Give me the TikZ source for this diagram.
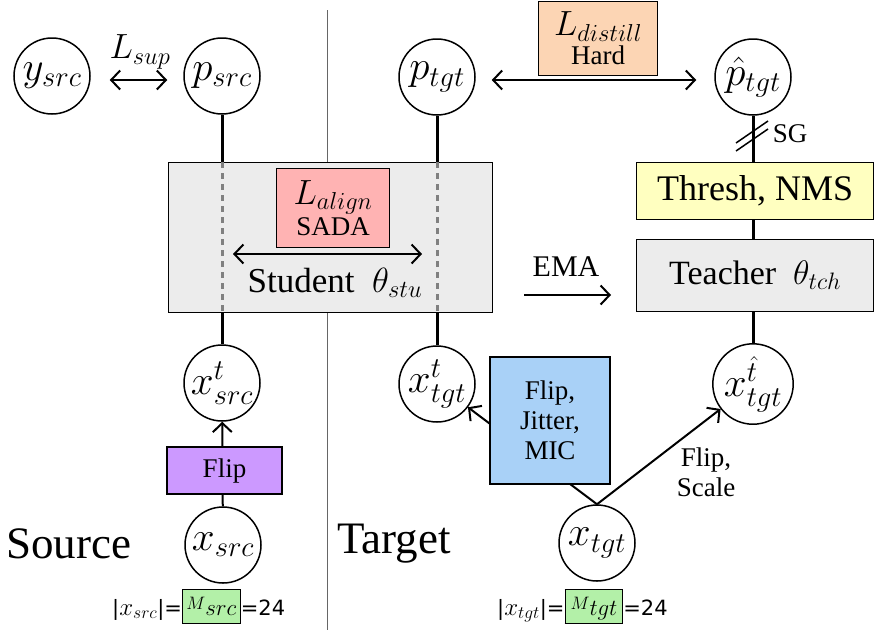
\RequirePackage{fix-cm}
\documentclass[tikz,border=0pt]{standalone}
\usepackage{fontspec}
\setmainfont{Liberation Serif}
\newfontfamily\labsans{DejaVu Sans}
\usetikzlibrary{arrows.meta}
\definecolor{boxgray}{HTML}{ECECEC}
\definecolor{alignred}{HTML}{FFB3B3}
\definecolor{distorange}{HTML}{FCD5B4}
\definecolor{threshyellow}{HTML}{FFFFC0}
\definecolor{flippurple}{HTML}{CC99FF}
\definecolor{augblue}{HTML}{A9D1F7}
\definecolor{mgreen}{HTML}{B3F0A8}
\newcommand\myBig{\fontsize{35}{38}\selectfont}
\newcommand\myVar{\fontsize{41}{44}\selectfont}
\newcommand\mySmall{\fontsize{27}{30}\selectfont}
\newcommand\myHuge{\fontsize{45}{50}\selectfont}
\newcommand\myLab{\labsans\fontsize{21}{24}\selectfont}
\newcommand\greenM[1]{\fcolorbox{black}{mgreen}{\makebox[53pt]{\rule[-6pt]{0pt}{29pt}\raisebox{6pt}{\fontsize{18}{20}\selectfont$M$}{\fontsize{23}{26}\selectfont$#1$}}}}
\begin{document}
\begin{tikzpicture}[x=1pt,y=-1pt,
  var/.style={circle,draw,line width=1.5pt,minimum size=76pt,inner sep=0pt,font=\myVar},
  conn/.style={line width=3pt},
  tip/.tip={Straight Barb[length=9pt,width=19pt,line width=2pt]},
  arr/.style={line width=2pt,-tip},
  darr/.style={line width=2pt,tip-tip},
  box/.style={draw,line width=1.2pt,inner sep=0pt,align=center},
  dashln/.style={draw=gray,line width=3pt,dash pattern=on 6pt off 5pt},
  divider/.style={draw=black!60,line width=0.8pt}
]
\useasboundingbox (0,0) rectangle (883,630);

% divider
\coordinate (dtop) at (327,10);
\coordinate (dbot) at (327,630);
\draw[divider] (dtop) -- (dbot);

% variable nodes
\node[var] (ysrc) at (52,76) {$y_{src}$};
\node[var] (psrc) at (222,76) {$p_{src}$};
\node[var] (ptgt) at (437,77) {$p_{tgt}$};
\node[var] (phat) at (753,77) {$\hat p_{tgt}$};
\node[var] (xsrct) at (222,383) {$x^t_{src}$};
\node[var] (xtgtt) at (437,384) {$x^t_{tgt}$};
\node[var] (xhat) at (753,384) {$x^{\hat t}_{tgt}$};
\node[var] (xsrc) at (223,545) {$x_{src}$};
\node[var] (xtgt) at (597,543) {$x_{tgt}$};

% student box
\node[box,fill=boxgray,minimum width=324pt,minimum height=150pt,anchor=north west] (stu) at (168,162) {};
\draw[dashln] (stu.north -| psrc) -- (stu.south -| psrc);
\draw[dashln] (stu.north -| ptgt) -- (stu.south -| ptgt);
\node[box,fill=alignred,minimum width=113pt,minimum height=79pt,anchor=north west] (align) at (276,168)
  {{\myBig$L_{align}$}\\[2pt]{\mySmall SADA}};
\coordinate (al) at (233,254);
\coordinate (ar) at (422,254);
\draw[darr] (al) -- (ar);
\node[font=\myBig] (stutext) at (335,283) {Student\ \ $\theta_{stu}$};

\draw[conn] (psrc) -- (stu.north -| psrc);
\draw[conn] (ptgt) -- (stu.north -| ptgt);
\draw[conn] (stu.south -| xsrct) -- (xsrct);
\draw[conn] (stu.south -| xtgtt) -- (xtgtt);

% L_sup
\draw[darr,shorten <=19pt,shorten >=16pt] ([yshift=-4pt]ysrc.east) -- ([yshift=-4pt]psrc.west);
\node[font=\myBig] (lsup) at (140,52) {$L_{sup}$};

% L_distill
\draw[darr,shorten <=16pt,shorten >=18pt] ([yshift=-3pt]ptgt.east) -- ([yshift=-3pt]phat.west);
\node[box,fill=distorange,minimum width=119pt,minimum height=74pt,anchor=north west] (dist) at (538,1)
  {{\myBig$L_{distill}$}\\[4pt]{\mySmall Hard}};

% teacher side
\node[box,fill=threshyellow,minimum width=237pt,minimum height=57pt,anchor=north west,font=\fontsize{36}{40}\selectfont] (thresh) at (636,162) {Thresh, NMS};
\node[box,fill=boxgray,minimum width=237pt,minimum height=72pt,anchor=north west,font=\fontsize{34}{38}\selectfont] (teach) at (636,239) {Teacher\ \ $\theta_{tch}$};
\draw[conn] (phat) -- (thresh.north -| phat);
\draw[conn] (thresh.south -| phat) -- (teach.north -| phat);
\draw[conn] (teach.south -| xhat) -- (xhat);
% stop gradient
\coordinate (sg1a) at (736,143);
\coordinate (sg1b) at (768,121);
\coordinate (sg2a) at (736,151);
\coordinate (sg2b) at (768,129);
\draw[line width=1.5pt] (sg1a) -- (sg1b);
\draw[line width=1.5pt] (sg2a) -- (sg2b);
\node[font=\mySmall] (sg) at (790,134) {SG};

% EMA
\coordinate (emal) at (524,295);
\coordinate (emar) at (611,295);
\draw[arr] (emal) -- (emar);
\node[font=\fontsize{30}{34}\selectfont] (ema) at (566,267) {EMA};

% source augmentation
\draw[arr] (xsrc) -- (xsrct);
\node[box,fill=flippurple,minimum width=115pt,minimum height=47pt,font=\mySmall] (flip) at (224.5,470.5) {Flip};

% target augmentation
\draw[arr] (xtgt.north) -- (xtgtt);
\draw[arr] (xtgt.north) -- (xhat);
\node[box,fill=augblue,minimum width=120pt,minimum height=127pt,font=\mySmall] (aug) at (550,420.5) {Flip,\\Jitter,\\MIC};
\node[font=\mySmall,align=center] (fs) at (706,472) {Flip,\\Scale};

% domain titles
\node[font=\myHuge,anchor=west,inner sep=0pt] (source) at (6,544) {Source};
\node[font=\myHuge,anchor=west,inner sep=0pt] (target) at (337,544) {Target};

% bottom labels
\setlength{\fboxsep}{2pt}\setlength{\fboxrule}{0.9pt}
\node[anchor=base west,inner sep=0pt,font=\myLab] (nsrc) at (112,615)
  {|{\fontsize{25}{28}\selectfont$x_{src}$}|=\greenM{src}=24};
\node[anchor=base west,inner sep=0pt,font=\myLab] (ntgt) at (497,615)
  {|{\fontsize{25}{28}\selectfont$x_{tgt}$}|=\greenM{tgt}=24};
\end{tikzpicture}
\end{document}
